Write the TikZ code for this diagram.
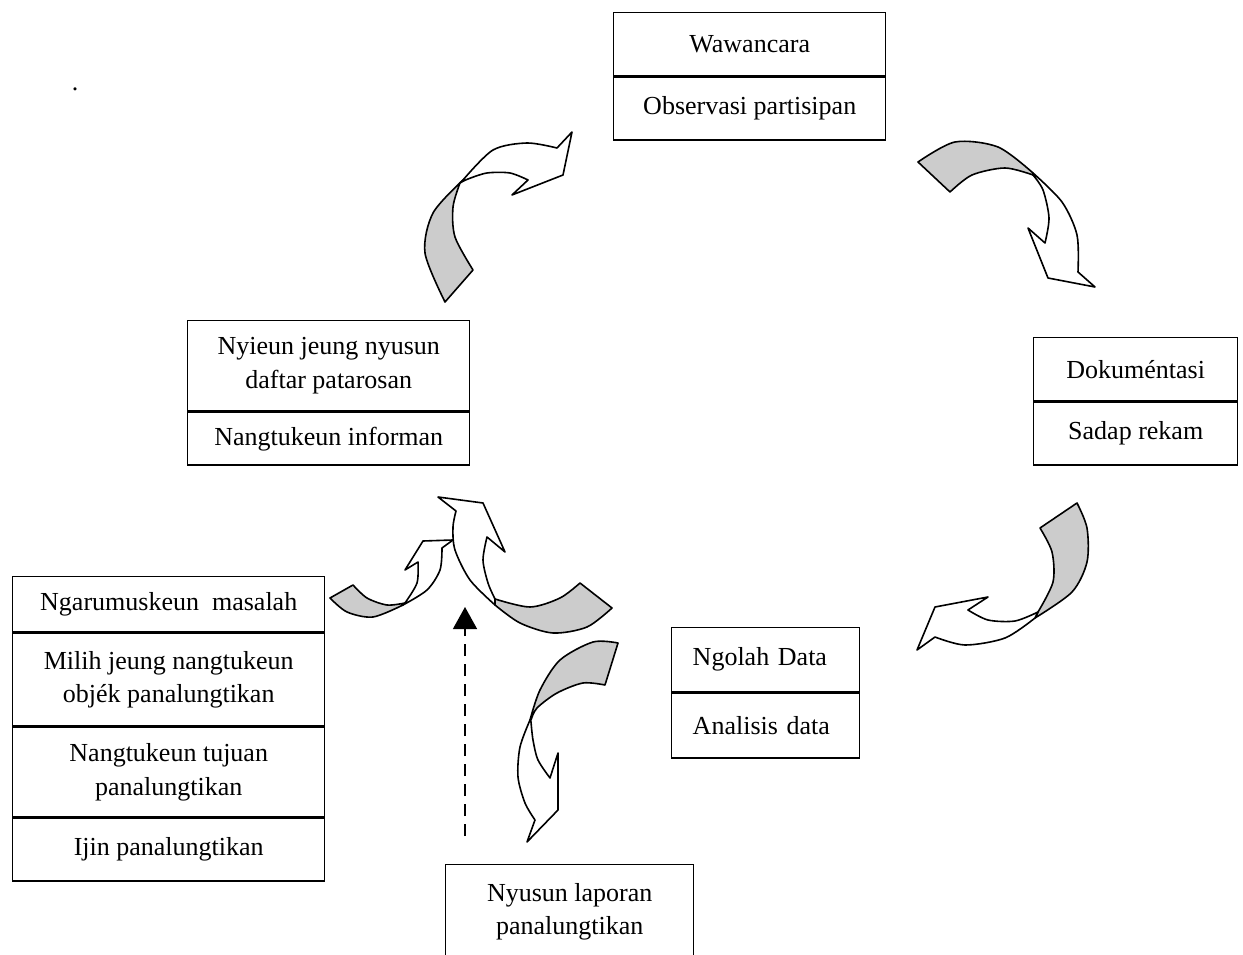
\documentclass[tikz,border=0pt]{standalone}
\usepackage{fontspec}
\setmainfont{Liberation Serif}
\usetikzlibrary{arrows.meta,positioning}

\begin{document}
\begin{tikzpicture}[x=0.75pt,y=-0.75pt,
  cell/.style={draw,line width=1.1pt,anchor=north west,inner sep=0pt,align=center,
    font=\fontsize{19.5}{25}\selectfont},
  back/.style={draw,fill=black!20,line width=1.2pt,line join=round},
  front/.style={draw,fill=white,line width=1.2pt,line join=round}]
\useasboundingbox (0,0) rectangle (1243,955);
\node (dot) at (75,89) {\fontsize{19.5}{25}\selectfont .};

% kotak
\node[cell,minimum width=204pt,minimum height=47.25pt] (waw) at (613,12) {Wawancara};
\node[cell,minimum width=204pt,minimum height=47.25pt] (obs) at (waw.south west) {Observasi partisipan};

\node[cell,minimum width=211.5pt,minimum height=67.5pt] (nyieun) at (187,320) {Nyieun jeung nyusun\\daftar patarosan};
\node[cell,minimum width=211.5pt,minimum height=39.75pt] (inf) at (nyieun.south west) {Nangtukeun informan};

\node[cell,minimum width=153pt,minimum height=47.25pt] (dok) at (1033,337) {Dokuméntasi};
\node[cell,minimum width=153pt,minimum height=47.25pt] (rek) at (dok.south west) {Sadap rekam};

\node[cell,minimum width=141pt,minimum height=48pt,text width=109.5pt,inner xsep=15.75pt,align=left] (olah) at (671,627) {Ngolah Data};
\node[cell,minimum width=141pt,minimum height=48.75pt,text width=109.5pt,inner xsep=15.75pt,align=left] (anal) at (olah.south west) {Analisis data};

\node[cell,minimum width=186pt,minimum height=70.5pt] (lap) at (445,864) {Nyusun laporan\\panalungtikan};

\node[cell,minimum width=234pt,minimum height=41.25pt] (mas) at (12,576) {Ngarumuskeun~ masalah};
\node[cell,minimum width=234pt,minimum height=69.75pt] (obj) at (mas.south west) {Milih jeung nangtukeun\\objék panalungtikan};
\node[cell,minimum width=234pt,minimum height=66.75pt] (tuj) at (obj.south west) {Nangtukeun tujuan\\panalungtikan};
\node[cell,minimum width=234pt,minimum height=47.25pt] (ijin) at (tuj.south west) {Ijin panalungtikan};

% panah putaran
\filldraw[back] plot[smooth] coordinates {(445,302) (425,253) (433,213) (463,180)}
  -- plot[smooth] coordinates {(460,183) (453,207) (455,237) (473,270)} -- cycle;
\filldraw[front] plot[smooth] coordinates {(463,180) (493,150) (527,143) (557,148)}
  -- (572,132) -- (563,175) -- (512,195)
  -- plot[smooth] coordinates {(528,180) (510,173) (487,173) (468,179) (460,183)} -- cycle;

\filldraw[back] plot[smooth] coordinates {(918,162) (955,142) (998,147) (1033,173)}
  -- plot[smooth] coordinates {(1033,175) (1005,168) (972,175) (950,192)} -- cycle;
\filldraw[front] plot[smooth] coordinates {(1033,173) (1062,202) (1077,235) (1078,272)}
  -- (1095,287) -- (1048,278) -- (1028,228)
  -- plot[smooth] coordinates {(1045,243) (1049,218) (1043,190) (1033,175)} -- cycle;

\filldraw[back] plot[smooth] coordinates {(1077,503) (1087,528) (1087,562) (1072,592) (1035,618)}
  -- plot[smooth] coordinates {(1038,612) (1053,582) (1052,552) (1040,528)} -- cycle;
\filldraw[front] plot[smooth] coordinates {(1035,618) (1005,638) (965,645) (935,637)}
  -- (917,650) -- (935,607) -- (988,597)
  -- plot[smooth] coordinates {(968,610) (988,620) (1015,621) (1038,612)} -- cycle;

\filldraw[back] plot[smooth] coordinates {(618,643) (593,642) (560,660) (540,690) (530,720)}
  -- plot[smooth] coordinates {(531,720) (537,708) (557,693) (583,683) (605,685)} -- cycle;
\filldraw[front] plot[smooth] coordinates {(530,720) (520,747) (518,777) (525,803) (535,820)}
  -- (527,842) -- (558,810) -- (558,753)
  -- plot[smooth] coordinates {(550,778) (538,760) (533,740) (531,722)} -- cycle;

\filldraw[back] plot[smooth] coordinates {(330,598) (347,612) (373,617) (403,605)}
  -- plot[smooth] coordinates {(405,603) (387,605) (367,598) (353,585)} -- cycle;
\filldraw[front] plot[smooth] coordinates {(403,605) (427,590) (440,570) (442,548)}
  -- (453,540) -- (423,541) -- (405,570)
  -- plot[smooth] coordinates {(418,562) (417,583) (405,603)} -- cycle;

\filldraw[back] plot[smooth] coordinates {(612,608) (587,627) (553,633) (520,623) (495,605)}
  -- plot[smooth] coordinates {(495,599) (530,607) (560,598) (580,583)} -- cycle;
\filldraw[front] plot[smooth] coordinates {(495,605) (470,580) (455,550) (453,527) (456,511)}
  -- (438,497) -- (483,503) -- (505,552)
  -- plot[smooth] coordinates {(487,537) (483,560) (488,583) (495,599)} -- cycle;

% garis putus-putus
\coordinate (dashS) at (465,836);
\coordinate (dashE) at (465,607);
\draw[line width=1pt,dash pattern=on 9pt off 6pt,-{Triangle[length=16.5pt,width=18pt]}] (dashS) -- (dashE);
\end{tikzpicture}
\end{document}
